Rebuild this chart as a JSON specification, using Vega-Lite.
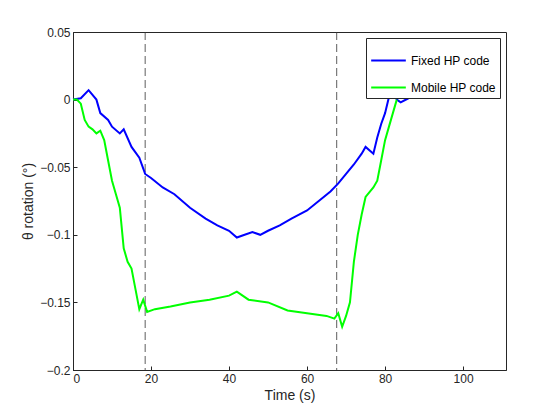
{
  "$schema": "https://vega.github.io/schema/vega-lite/v6.json",
  "width": 433,
  "height": 338,
  "autosize": "none",
  "padding": {"left": 73, "top": 32, "right": 54, "bottom": 50},
  "background": "white",
  "config": {
    "view": {"stroke": "#262626", "strokeWidth": 1},
    "font": "Liberation Sans",
    "axis": {"grid": false, "domainColor": "#262626", "tickColor": "#262626", "labelColor": "#262626", "titleColor": "#262626", "labelFontSize": 12, "titleFontSize": 14, "titleFontWeight": "normal", "tickSize": -4, "labelPadding": 7}
  },
  "datasets": {
    "series": [
      {"t": 0, "v": 0, "s": "Fixed HP code"},
      {"t": 2, "v": 0.001, "s": "Fixed HP code"},
      {"t": 4, "v": 0.007, "s": "Fixed HP code"},
      {"t": 6, "v": 0.0, "s": "Fixed HP code"},
      {"t": 7, "v": -0.01, "s": "Fixed HP code"},
      {"t": 9, "v": -0.015, "s": "Fixed HP code"},
      {"t": 10, "v": -0.02, "s": "Fixed HP code"},
      {"t": 12, "v": -0.025, "s": "Fixed HP code"},
      {"t": 13, "v": -0.022, "s": "Fixed HP code"},
      {"t": 15, "v": -0.035, "s": "Fixed HP code"},
      {"t": 17, "v": -0.043, "s": "Fixed HP code"},
      {"t": 18.5, "v": -0.055, "s": "Fixed HP code"},
      {"t": 20, "v": -0.058, "s": "Fixed HP code"},
      {"t": 23, "v": -0.065, "s": "Fixed HP code"},
      {"t": 26, "v": -0.07, "s": "Fixed HP code"},
      {"t": 30, "v": -0.08, "s": "Fixed HP code"},
      {"t": 34, "v": -0.088, "s": "Fixed HP code"},
      {"t": 37, "v": -0.093, "s": "Fixed HP code"},
      {"t": 40, "v": -0.097, "s": "Fixed HP code"},
      {"t": 42, "v": -0.102, "s": "Fixed HP code"},
      {"t": 44, "v": -0.1, "s": "Fixed HP code"},
      {"t": 46, "v": -0.098, "s": "Fixed HP code"},
      {"t": 48, "v": -0.1, "s": "Fixed HP code"},
      {"t": 50, "v": -0.097, "s": "Fixed HP code"},
      {"t": 53, "v": -0.093, "s": "Fixed HP code"},
      {"t": 56, "v": -0.088, "s": "Fixed HP code"},
      {"t": 60, "v": -0.082, "s": "Fixed HP code"},
      {"t": 63, "v": -0.075, "s": "Fixed HP code"},
      {"t": 66, "v": -0.068, "s": "Fixed HP code"},
      {"t": 68, "v": -0.062, "s": "Fixed HP code"},
      {"t": 70, "v": -0.055, "s": "Fixed HP code"},
      {"t": 72, "v": -0.048, "s": "Fixed HP code"},
      {"t": 74, "v": -0.04, "s": "Fixed HP code"},
      {"t": 75, "v": -0.035, "s": "Fixed HP code"},
      {"t": 77, "v": -0.04, "s": "Fixed HP code"},
      {"t": 78, "v": -0.028, "s": "Fixed HP code"},
      {"t": 79, "v": -0.018, "s": "Fixed HP code"},
      {"t": 80, "v": -0.01, "s": "Fixed HP code"},
      {"t": 81, "v": 0.002, "s": "Fixed HP code"},
      {"t": 82, "v": 0.007, "s": "Fixed HP code"},
      {"t": 83, "v": 0.0, "s": "Fixed HP code"},
      {"t": 84, "v": -0.002, "s": "Fixed HP code"},
      {"t": 86, "v": 0.001, "s": "Fixed HP code"},
      {"t": 0, "v": 0, "s": "Mobile HP code"},
      {"t": 1, "v": 0, "s": "Mobile HP code"},
      {"t": 2, "v": -0.003, "s": "Mobile HP code"},
      {"t": 3, "v": -0.015, "s": "Mobile HP code"},
      {"t": 4, "v": -0.02, "s": "Mobile HP code"},
      {"t": 5, "v": -0.022, "s": "Mobile HP code"},
      {"t": 6, "v": -0.025, "s": "Mobile HP code"},
      {"t": 7, "v": -0.023, "s": "Mobile HP code"},
      {"t": 8, "v": -0.03, "s": "Mobile HP code"},
      {"t": 9, "v": -0.045, "s": "Mobile HP code"},
      {"t": 10, "v": -0.06, "s": "Mobile HP code"},
      {"t": 11, "v": -0.07, "s": "Mobile HP code"},
      {"t": 12, "v": -0.08, "s": "Mobile HP code"},
      {"t": 13, "v": -0.11, "s": "Mobile HP code"},
      {"t": 14, "v": -0.12, "s": "Mobile HP code"},
      {"t": 15, "v": -0.125, "s": "Mobile HP code"},
      {"t": 16, "v": -0.14, "s": "Mobile HP code"},
      {"t": 17, "v": -0.155, "s": "Mobile HP code"},
      {"t": 18, "v": -0.148, "s": "Mobile HP code"},
      {"t": 19, "v": -0.157, "s": "Mobile HP code"},
      {"t": 21, "v": -0.155, "s": "Mobile HP code"},
      {"t": 25, "v": -0.153, "s": "Mobile HP code"},
      {"t": 30, "v": -0.15, "s": "Mobile HP code"},
      {"t": 35, "v": -0.148, "s": "Mobile HP code"},
      {"t": 40, "v": -0.145, "s": "Mobile HP code"},
      {"t": 42, "v": -0.142, "s": "Mobile HP code"},
      {"t": 45, "v": -0.148, "s": "Mobile HP code"},
      {"t": 50, "v": -0.15, "s": "Mobile HP code"},
      {"t": 55, "v": -0.156, "s": "Mobile HP code"},
      {"t": 60, "v": -0.158, "s": "Mobile HP code"},
      {"t": 65, "v": -0.16, "s": "Mobile HP code"},
      {"t": 67, "v": -0.162, "s": "Mobile HP code"},
      {"t": 68, "v": -0.158, "s": "Mobile HP code"},
      {"t": 69, "v": -0.168, "s": "Mobile HP code"},
      {"t": 70, "v": -0.16, "s": "Mobile HP code"},
      {"t": 71, "v": -0.15, "s": "Mobile HP code"},
      {"t": 72, "v": -0.12, "s": "Mobile HP code"},
      {"t": 73, "v": -0.1, "s": "Mobile HP code"},
      {"t": 74, "v": -0.085, "s": "Mobile HP code"},
      {"t": 75, "v": -0.072, "s": "Mobile HP code"},
      {"t": 77, "v": -0.065, "s": "Mobile HP code"},
      {"t": 78, "v": -0.06, "s": "Mobile HP code"},
      {"t": 79, "v": -0.045, "s": "Mobile HP code"},
      {"t": 80, "v": -0.03, "s": "Mobile HP code"},
      {"t": 81, "v": -0.02, "s": "Mobile HP code"},
      {"t": 82, "v": -0.01, "s": "Mobile HP code"},
      {"t": 83, "v": 0, "s": "Mobile HP code"}
    ],
    "marks": [{"t": 18.5}, {"t": 67.6}]
  },
  "layer": [
    {
      "data": {"name": "marks"},
      "mark": {"type": "rule", "strokeDash": [8, 4], "color": "#333333", "strokeWidth": 0.8},
      "encoding": {"x": {"field": "t", "type": "quantitative"}}
    },
    {
      "data": {"name": "series"},
      "mark": {"type": "line", "strokeWidth": 2},
      "encoding": {
        "x": {"field": "t", "type": "quantitative", "title": "Time (s)", "scale": {"domain": [0, 111], "nice": false}, "axis": {"values": [0, 20, 40, 60, 80, 100]}},
        "y": {"field": "v", "type": "quantitative", "title": "θ rotation (°)", "scale": {"domain": [-0.2, 0.05], "nice": false}, "axis": {"values": [-0.2, -0.15, -0.1, -0.05, 0, 0.05], "format": ".2~f"}},
        "color": {"field": "s", "type": "nominal", "scale": {"domain": ["Fixed HP code", "Mobile HP code"], "range": ["#0000ff", "#00ff00"]},
          "legend": {"title": null, "orient": "top-right", "offset": 6, "strokeColor": "#262626", "fillColor": "white", "padding": 4, "symbolType": "stroke", "symbolSize": 1200, "symbolStrokeWidth": 2, "labelFontSize": 12, "labelColor": "#000"}}
      }
    }
  ]
}
